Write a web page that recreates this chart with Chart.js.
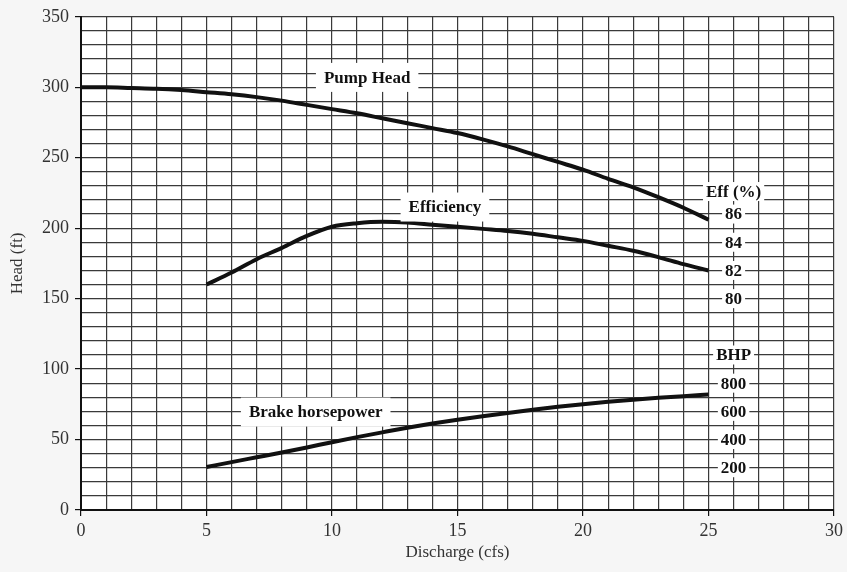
<!DOCTYPE html>
<html>
<head>
<meta charset="utf-8">
<script src="https://cdn.jsdelivr.net/npm/chart.js@4.4.1/dist/chart.umd.min.js"></script>
<style>
  html, body { margin: 0; padding: 0; background: #f6f6f6; }
  #pumpChart { display: block; }
</style>
</head>
<body>
<canvas id="pumpChart" width="847" height="572"></canvas>
<script>
// pump head curve (ft) against discharge (cfs)
const headQ = [0, 1, 2, 3, 4, 5, 6, 7, 8, 9, 10, 11, 12, 13, 14, 15, 16, 17, 18, 19, 20, 21, 22, 23, 24, 25];
const headFt = [300, 300, 299.5, 299, 298, 296.5, 295, 293, 290.5, 287.5, 284.5, 281.5, 278, 274.5, 271, 267.5, 263, 258, 252.5, 247, 241.5, 235, 229, 222, 214.5, 206];

// efficiency (%) and brake horsepower, same discharges
const effQ = [5, 6, 7, 8, 9, 10, 11, 12, 13, 14, 15, 16, 17, 18, 19, 20, 21, 22, 23, 24, 25];
const effPct = [81.0, 81.85, 82.8, 83.6, 84.45, 85.1, 85.35, 85.45, 85.4, 85.25, 85.1, 84.95, 84.8, 84.6, 84.35, 84.1, 83.75, 83.4, 82.95, 82.45, 82.0];
const bhpQ = [5, 6, 7, 8, 9, 10, 11, 12, 13, 14, 15, 16, 17, 18, 19, 20, 21, 22, 23, 24, 25];
const bhpVals = [205, 240, 274, 308, 344, 381, 417, 451, 484, 514, 541, 566, 589, 611, 632, 651, 668, 683, 696, 708, 719];

// tick labels
const xLabelTicks = [0, 5, 10, 15, 20, 25, 30];
const yLabelTicks = [0, 50, 100, 150, 200, 250, 300, 350];
const effTicks = [80, 82, 84, 86];
const bhpTicks = [200, 400, 600, 800];

const serif = "'Liberation Serif', 'Times New Roman', serif";

// curve names, placed in data units
const curveLabels = [
    { text: "Pump Head", x: 11.4, y: 307 },
    { text: "Efficiency", x: 14.5, y: 215 },
    { text: "Brake horsepower", x: 9.35, y: 69.5 }
];

function pts(xs, ys) {
    return xs.map((x, i) => ({ x: x, y: ys[i] }));
}

function range(a, b, step) {
    const out = [];
    for (let v = a; v <= b; v += step) out.push({ value: v });
    return out;
}

function boxedText(ctx, text, x, y, padX, padY) {
    const w = ctx.measureText(text).width;
    const h = 13;
    ctx.fillStyle = "#ffffff";
    ctx.fillRect(x - w / 2 - padX, y - h / 2 - padY, w + padX * 2, h + padY * 2);
    ctx.fillStyle = "#111";
    ctx.fillText(text, x, y + 1);
}

const labelPlugin = {
    id: "curveLabels",
    beforeDraw(chart) {
        const { ctx, chartArea } = chart;
        ctx.save();
        ctx.fillStyle = "#ffffff";
        ctx.fillRect(chartArea.left, chartArea.top, chartArea.right - chartArea.left, chartArea.bottom - chartArea.top);
        ctx.restore();
    },
    afterDatasetsDraw(chart) {
        const { ctx, scales } = chart;
        ctx.save();
        ctx.font = "bold 17px " + serif;
        ctx.textAlign = "center";
        ctx.textBaseline = "middle";
        curveLabels.forEach(l => {
            boxedText(ctx, l.text, scales.x.getPixelForValue(l.x), scales.y.getPixelForValue(l.y), 8, 8);
        });
        // side scales for efficiency and BHP sit on the 26 cfs line
        const ax = scales.x.getPixelForValue(26);
        boxedText(ctx, "Eff (%)", ax, scales.yEff.getPixelForValue(87.6), 3, 3);
        effTicks.forEach(v => boxedText(ctx, String(v), ax, scales.yEff.getPixelForValue(v), 3, 3));
        boxedText(ctx, "BHP", ax, scales.yBhp.getPixelForValue(1000), 3, 3);
        bhpTicks.forEach(v => boxedText(ctx, String(v), ax, scales.yBhp.getPixelForValue(v), 3, 3));
        ctx.restore();
    }
};

const lineStyle = {
    borderColor: "#111",
    borderWidth: 4,
    pointRadius: 0,
    fill: false,
    cubicInterpolationMode: "monotone"
};

const chart = new Chart(document.getElementById("pumpChart"), {
    type: "line",
    data: {
        datasets: [
            Object.assign({ label: "Pump Head", data: pts(headQ, headFt), yAxisID: "y" }, lineStyle),
            Object.assign({ label: "Efficiency", data: pts(effQ, effPct), yAxisID: "yEff" }, lineStyle),
            Object.assign({ label: "Brake horsepower", data: pts(bhpQ, bhpVals), yAxisID: "yBhp" }, lineStyle)
        ]
    },
    options: {
        responsive: false,
        animation: false,
        devicePixelRatio: 1,
        layout: { padding: { top: 15, right: 12, left: 0, bottom: 0 } },
        plugins: {
            legend: { display: false },
            tooltip: { enabled: false }
        },
        scales: {
            x: {
                type: "linear",
                min: 0,
                max: 30,
                afterBuildTicks: s => { s.ticks = range(0, 30, 1); },
                afterFit: s => { s.height = 62; },
                ticks: {
                    autoSkip: false,
                    maxRotation: 0,
                    padding: 4,
                    color: "#333",
                    font: { family: serif, size: 18 },
                    callback: v => xLabelTicks.includes(v) ? String(v) : ""
                },
                grid: {
                    color: "#3a3a3a",
                    lineWidth: 1.2,
                    tickLength: 6,
                    tickColor: c => (c.tick && xLabelTicks.includes(c.tick.value)) ? "#111" : "rgba(0,0,0,0)"
                },
                border: { color: "#111", width: 2 },
                title: {
                    display: true,
                    text: "Discharge (cfs)",
                    color: "#333",
                    font: { family: serif, size: 17 },
                    padding: { top: 9, bottom: 9 }
                }
            },
            y: {
                min: 0,
                max: 350,
                afterBuildTicks: s => { s.ticks = range(0, 350, 10); },
                afterFit: s => { s.width = 81; },
                ticks: {
                    autoSkip: false,
                    padding: 6,
                    color: "#333",
                    font: { family: serif, size: 18 },
                    callback: v => yLabelTicks.includes(v) ? String(v) : ""
                },
                grid: {
                    color: "#3a3a3a",
                    lineWidth: 1.2,
                    tickLength: 6,
                    tickColor: c => (c.tick && yLabelTicks.includes(c.tick.value)) ? "#111" : "rgba(0,0,0,0)"
                },
                border: { color: "#111", width: 2 },
                title: {
                    display: true,
                    text: "Head (ft)",
                    color: "#333",
                    font: { family: serif, size: 17 },
                    padding: { top: 7, bottom: 0 }
                }
            },
            // efficiency: 80 % on the 150 ft line, 10 ft per percent
            yEff: { display: false, min: 65, max: 100 },
            // BHP: 200 on the 30 ft line, 10 ft per 100 hp
            yBhp: { display: false, min: -100, max: 3400 }
        }
    },
    plugins: [labelPlugin]
});
</script>
</body>
</html>
